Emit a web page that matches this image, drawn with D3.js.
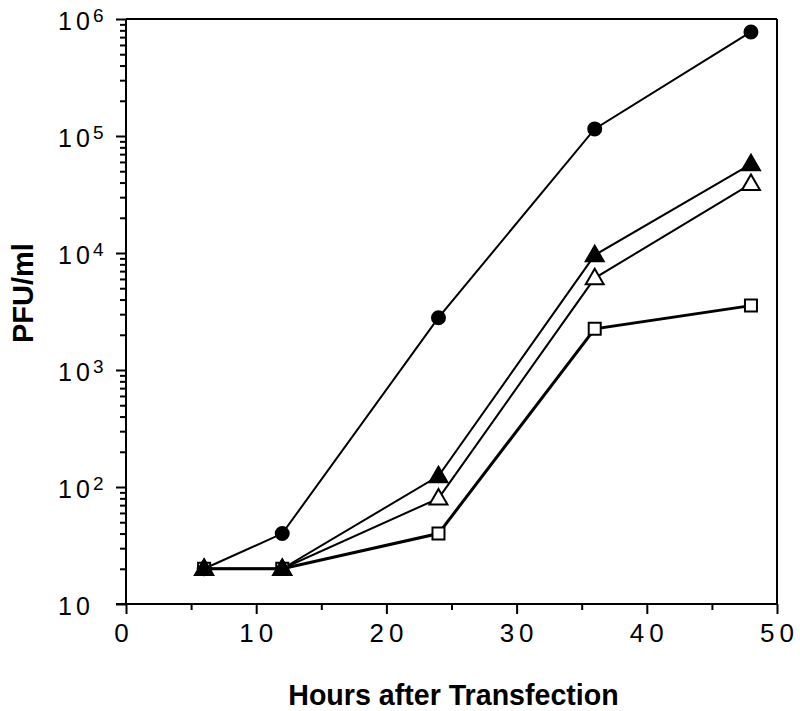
<!DOCTYPE html>
<html>
<head>
<meta charset="utf-8">
<script src="https://cdn.jsdelivr.net/npm/d3@7"></script>
<style>
  html, body { margin: 0; padding: 0; background: #fff; }
  svg { display: block; }
  text { font-family: "Liberation Sans", Arial, Helvetica, sans-serif; fill: #000; }
</style>
</head>
<body>
<svg id="chart" width="800" height="711"></svg>
<script>
// ---- data ----
const hours = [6, 12, 24, 36, 48];
const filledCircle   = [20, 40, 2800, 115000, 775000];
const openSquare     = [20, 20, 40, 2250, 3550];
const openTriangle   = [20, 20, 80, 6100, 39000];
const filledTriangle = [20, 20, 124, 9600, 57500];
const xTicks = [0, 10, 20, 30, 40, 50];
const xMinorTicks = [5, 15, 25, 35, 45];
const yExponents = [1, 2, 3, 4, 5, 6];
const xTitle = "Hours after Transfection";
const yTitle = "PFU/ml";

// ---- layout ----
const svg = d3.select("#chart");
const pLeft = 126, pRight = 777, pTop = 19, pBottom = 604;
const x = d3.scaleLinear().domain([0, 50]).range([pLeft, pRight]);
const y = d3.scaleLog().domain([10, 1e6]).range([pBottom, pTop]);

// minor y ticks
const yMinor = [];
for (let e = 1; e < 6; e++) for (let m = 2; m <= 9; m++) yMinor.push(m * Math.pow(10, e));

// frame (top & right)
svg.append("line").attr("x1", pLeft).attr("x2", pRight).attr("y1", pTop).attr("y2", pTop)
  .attr("stroke", "#000").attr("stroke-width", 2);
svg.append("line").attr("x1", pRight).attr("x2", pRight).attr("y1", pTop).attr("y2", pBottom)
  .attr("stroke", "#000").attr("stroke-width", 2);

// y axis
const yAxisG = svg.append("g").attr("transform", `translate(${pLeft},0)`);
yAxisG.call(d3.axisLeft(y).tickValues(yMinor).tickSize(6).tickFormat(""));
yAxisG.append("g").call(d3.axisLeft(y).tickValues(yExponents.map(e => Math.pow(10, e))).tickSize(10).tickFormat(""));
yAxisG.selectAll("path.domain").attr("stroke-width", 2).attr("d", `M0,${pTop}V${pBottom}`);
yAxisG.selectAll(".tick line").attr("stroke-width", 2);

// x axis
const xAxisG = svg.append("g").attr("transform", `translate(0,${pBottom})`);
xAxisG.call(d3.axisBottom(x).tickValues(xMinorTicks).tickSize(6).tickFormat(""));
xAxisG.append("g").call(d3.axisBottom(x).tickValues(xTicks).tickSize(10).tickFormat(""));
xAxisG.selectAll("path.domain").attr("stroke-width", 2).attr("d", `M${pLeft - 10},0H${pRight}`);
xAxisG.selectAll(".tick line").attr("stroke-width", 2);

// x tick labels
svg.append("g").selectAll("text").data(xTicks).join("text")
  .attr("x", d => x(d) + (d === 0 ? -2 : 2.5))
  .attr("y", 642)
  .attr("text-anchor", "middle")
  .attr("font-size", 26)
  .attr("letter-spacing", 5)
  .text(d => d);

// y tick labels: base "10" and separate superscript exponent
const ylg = svg.append("g");
ylg.selectAll("text.base").data(yExponents).join("text")
  .attr("class", "base")
  .attr("x", 58)
  .attr("y", d => y(Math.pow(10, d)) + 11)
  .attr("font-size", 25)
  .attr("letter-spacing", 4)
  .text("10");
ylg.selectAll("text.exp").data(yExponents.filter(d => d > 1)).join("text")
  .attr("class", "exp")
  .attr("x", 93)
  .attr("y", d => y(Math.pow(10, d)) + 3)
  .attr("font-size", 19)
  .text(d => d);

// axis titles
svg.append("text").attr("x", (pLeft + pRight) / 2 + 2).attr("y", 705)
  .attr("text-anchor", "middle").attr("font-size", 28.6).attr("font-weight", "bold")
  .text(xTitle);
svg.append("text")
  .attr("transform", `translate(33,343) rotate(-90)`)
  .attr("text-anchor", "start").attr("font-size", 29).attr("font-weight", "bold")
  .text(yTitle);

// ---- series ----
const line = d3.line().x(d => x(d[0])).y(d => y(d[1]));
const series = [
  { vals: filledCircle, shape: "circle", fill: "#000", width: 2 },
  { vals: openSquare, shape: "square", fill: "#fff", width: 3 },
  { vals: openTriangle, shape: "triangle", fill: "#fff", width: 2 },
  { vals: filledTriangle, shape: "triangle", fill: "#000", width: 2 }
];
const sym = {
  circle: d3.symbol().type(d3.symbolCircle).size(Math.PI * 6.5 * 6.5),
  square: d3.symbol().type(d3.symbolSquare).size(12 * 12),
  triangle: d3.symbol().type(d3.symbolTriangle).size(140)
};
series.forEach(s => {
  const pts = hours.map((h, i) => [h, s.vals[i]]);
  svg.append("path").datum(pts).attr("d", line)
    .attr("fill", "none").attr("stroke", "#000").attr("stroke-width", s.width);
});
series.forEach(s => {
  const pts = hours.map((h, i) => [h, s.vals[i]]);
  svg.append("g").selectAll("path").data(pts).join("path")
    .attr("transform", d => `translate(${x(d[0])},${y(d[1]) + (s.shape === "triangle" ? 1 : 0)})`)
    .attr("d", sym[s.shape])
    .attr("fill", s.fill).attr("stroke", "#000").attr("stroke-width", 2);
});
</script>
</body>
</html>
